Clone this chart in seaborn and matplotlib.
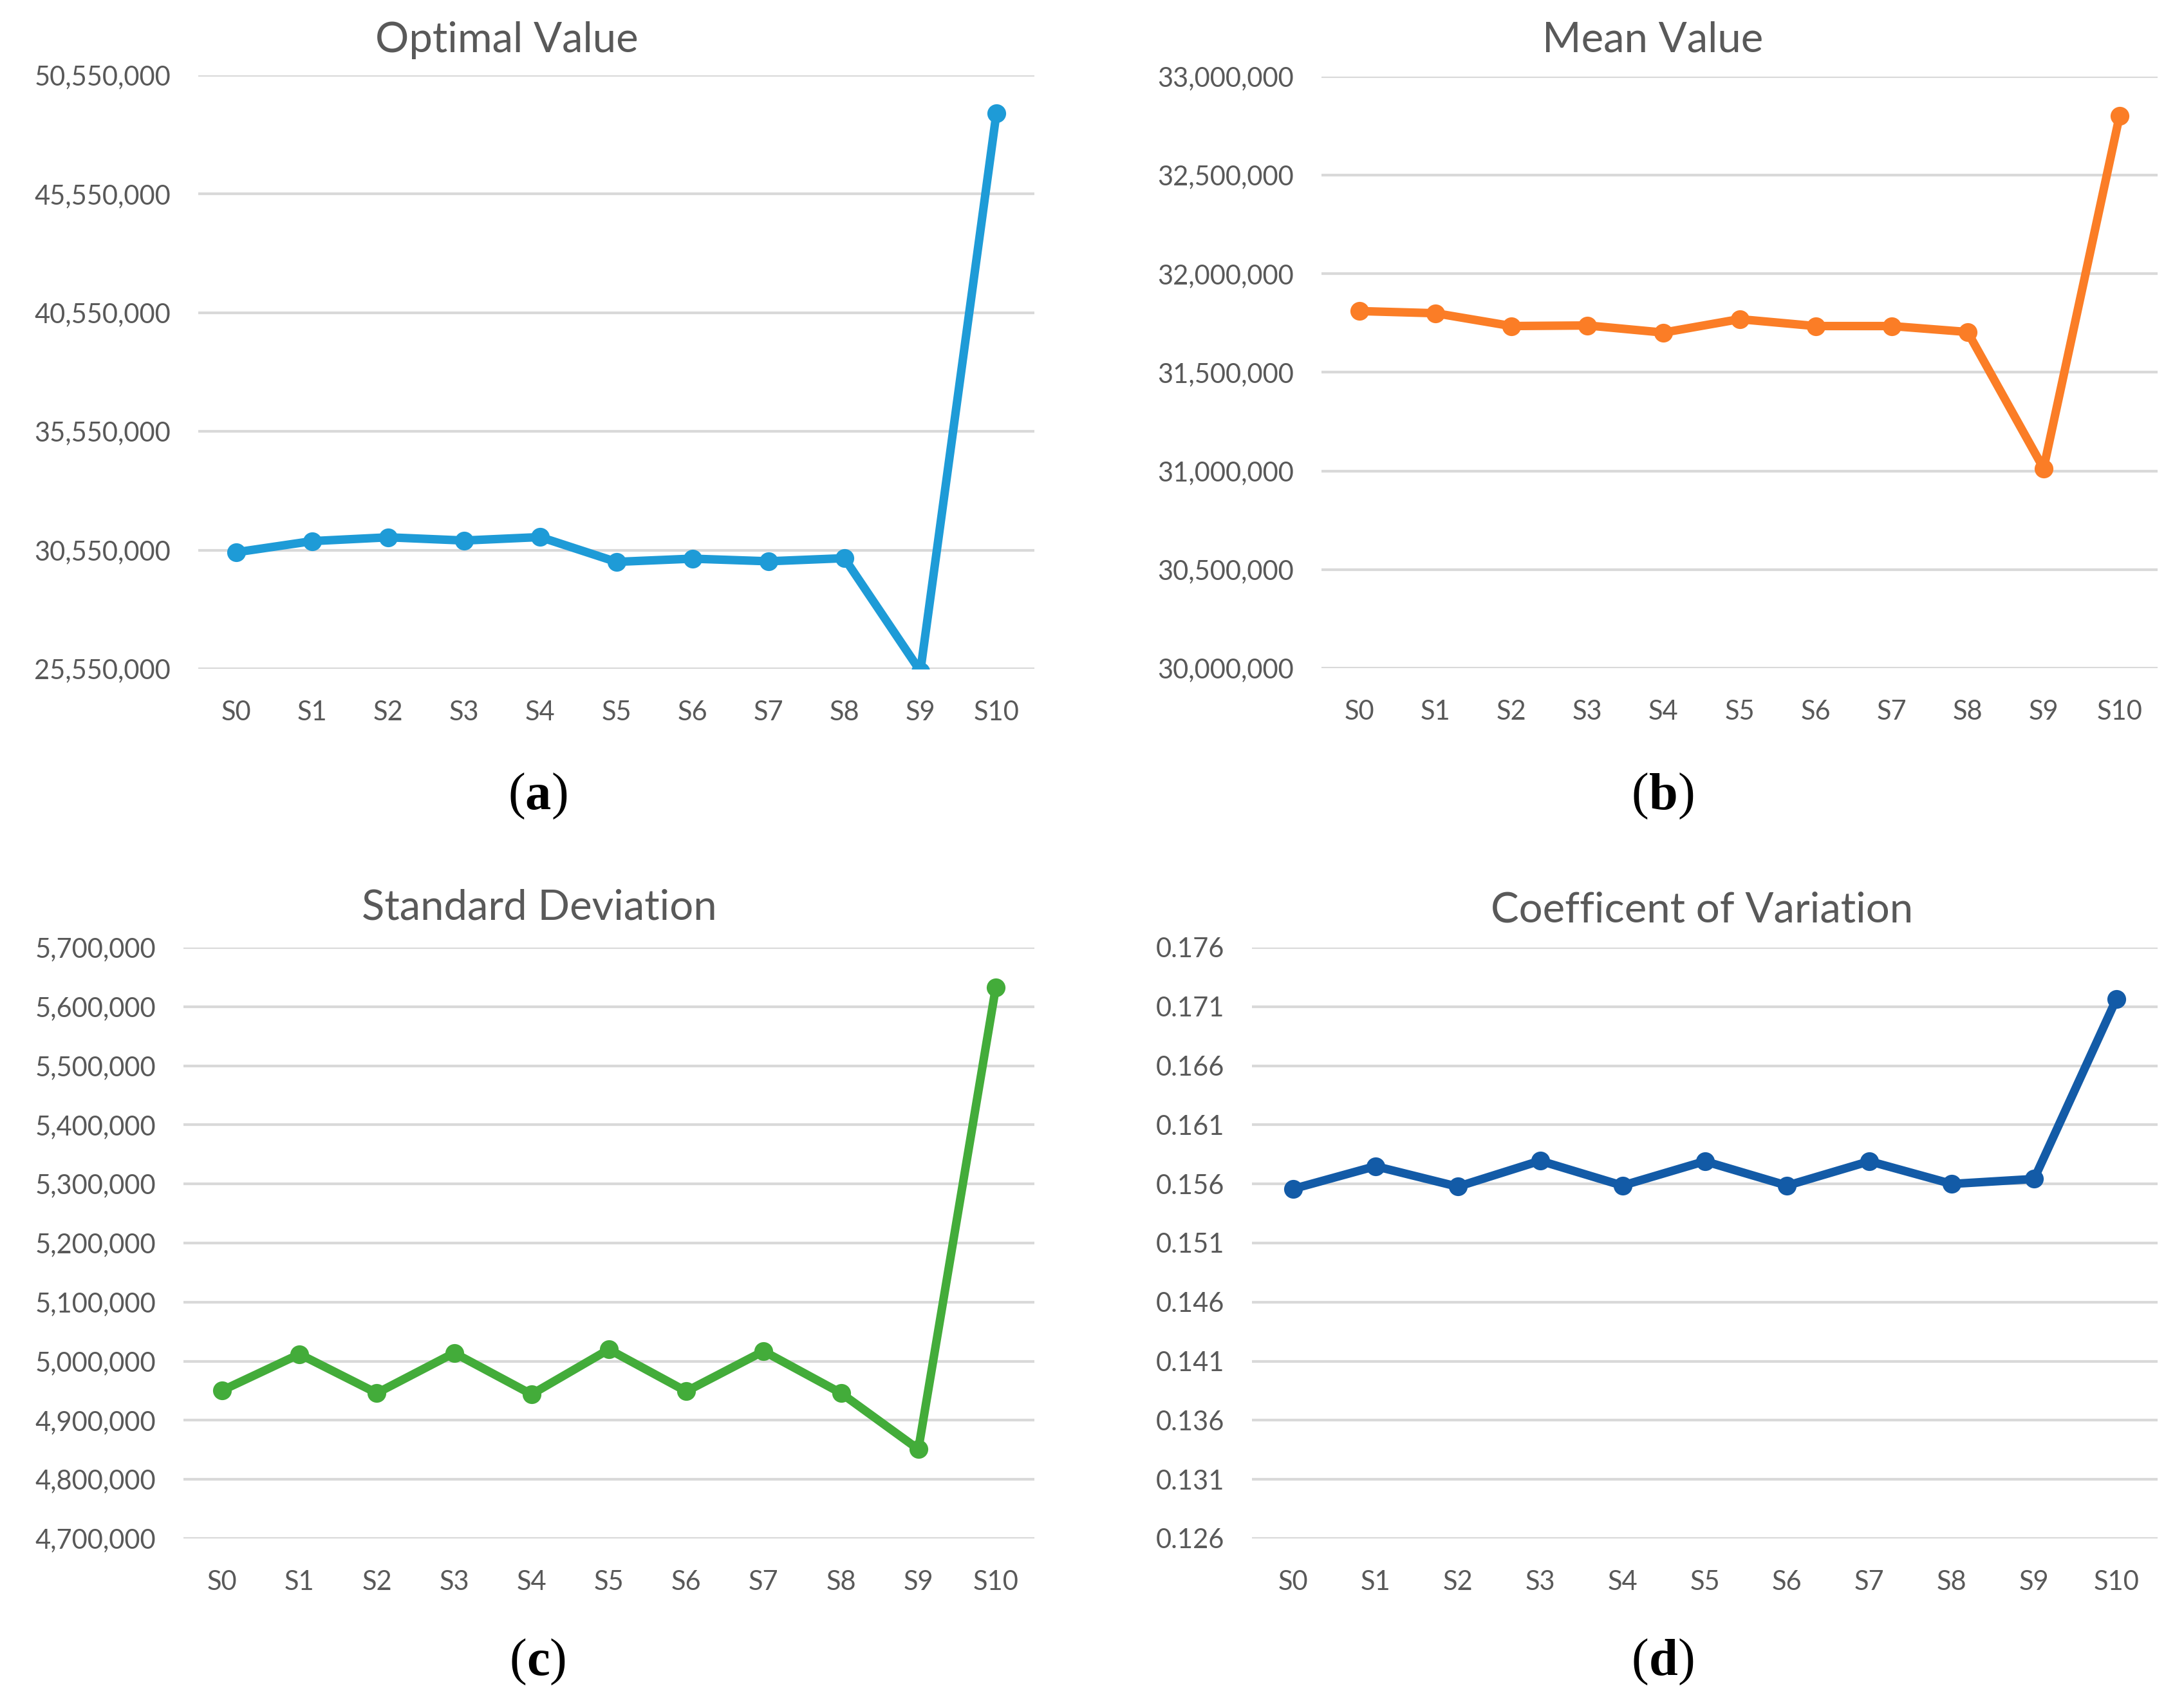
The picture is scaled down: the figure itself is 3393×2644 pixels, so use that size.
import matplotlib.pyplot as plt
import matplotlib.ticker as mticker
import pandas as pd
import seaborn as sns

# Data
scenarios = ["S0", "S1", "S2", "S3", "S4", "S5", "S6", "S7", "S8", "S9", "S10"]
optimal_value = [30460000, 30930000, 31090000, 30955000, 31100000, 30055000,
                 30190000, 30080000, 30210000, 25450000, 48950000]
mean_value = [31811000, 31800000, 31735000, 31738000, 31702000, 31770000,
              31735000, 31735000, 31705000, 31013000, 32802000]
std_dev = [4950500, 5012000, 4946000, 5014000, 4944000, 5020000,
           4949000, 5017000, 4946000, 4851000, 5632000]
coef_var = [0.15558, 0.15750, 0.15577, 0.15796, 0.15586, 0.15792,
            0.15586, 0.15792, 0.15600, 0.15642, 0.17165]

opt_ticks = [25550000, 30550000, 35550000, 40550000, 45550000, 50550000]
mean_ticks = [30000000, 30500000, 31000000, 31500000, 32000000, 32500000, 33000000]
std_ticks = [4700000, 4800000, 4900000, 5000000, 5100000, 5200000,
             5300000, 5400000, 5500000, 5600000, 5700000]
cv_ticks = [0.126, 0.131, 0.136, 0.141, 0.146, 0.151, 0.156, 0.161, 0.166, 0.171, 0.176]

sns.set_theme(style="white")
plt.rcParams['font.family'] = ['Lato', 'DejaVu Sans']

W, H = 3393, 2644
fig = plt.figure(figsize=(W / 100, H / 100), dpi=100)
grey = "#595959"


def px_axes(left, top, right, bottom):
    return fig.add_axes([left / W, 1 - bottom / H, (right - left) / W, (bottom - top) / H])


def draw_panel(ax, values, ticks, color, fmt):
    df = pd.DataFrame({"scenario": scenarios, "value": values})
    df["pos"] = range(len(scenarios))
    sns.lineplot(data=df, x="pos", y="value", ax=ax, color=color, linewidth=9.5,
                 marker="o", markersize=21, markeredgewidth=0)
    ax.set_xlim(-0.5, len(scenarios) - 0.5)
    ax.set_ylim(ticks[0], ticks[-1])
    ax.set_yticks(ticks)
    ax.set_xticks(df["pos"])
    ax.set_xticklabels(scenarios)
    ax.yaxis.set_major_formatter(fmt)
    ax.set_xlabel("")
    ax.set_ylabel("")
    for s in ax.spines.values():
        s.set_visible(False)
    ax.grid(axis="y", color="#d9d9d9", linewidth=3)
    ax.set_axisbelow(True)
    ax.tick_params(axis="y", length=0, pad=31, labelsize=30, labelcolor=grey)
    ax.tick_params(axis="x", length=0, pad=35, labelsize=30, labelcolor=grey)


comma = mticker.FuncFormatter(lambda v, p: f"{v:,.0f}")
three = mticker.FuncFormatter(lambda v, p: f"{v:.3f}")

ax_a = px_axes(308, 117, 1607, 1039)
draw_panel(ax_a, optimal_value, opt_ticks, "#1e9bd7", comma)
ax_b = px_axes(2053, 119, 3352, 1038)
draw_panel(ax_b, mean_value, mean_ticks, "#fb7d26", comma)
ax_c = px_axes(285, 1472, 1607, 2390)
draw_panel(ax_c, std_dev, std_ticks, "#43ac3a", comma)
ax_d = px_axes(1945, 1472, 3352, 2390)
draw_panel(ax_d, coef_var, cv_ticks, "#135ba7", three)

titles = [("Optimal Value", 787, 62), ("Mean Value", 2568, 62),
          ("Standard Deviation", 838, 1410), ("Coefficent of Variation", 2644, 1414)]
for t, x, y in titles:
    fig.text(x / W, 1 - y / H, t, ha="center", va="center", fontsize=47, color=grey)

# panel letters: regular parentheses around a bold letter
renderer = fig.canvas.get_renderer()
letters = [("a", 836, 1257), ("b", 2584, 1257), ("c", 836, 2602), ("d", 2584, 2602)]
for l, x, y in letters:
    mid = fig.text(x / W, 1 - y / H, l, ha="center", va="baseline", fontsize=58,
                   fontweight="bold", family="Liberation Serif", color="black")
    bb = mid.get_window_extent(renderer=renderer)
    fig.text(bb.x0 / W, 1 - y / H, "(", ha="right", va="baseline", fontsize=58,
             family="Liberation Serif", color="black")
    fig.text(bb.x1 / W, 1 - y / H, ")", ha="left", va="baseline", fontsize=58,
             family="Liberation Serif", color="black")

fig.savefig("out.png", dpi=100)
